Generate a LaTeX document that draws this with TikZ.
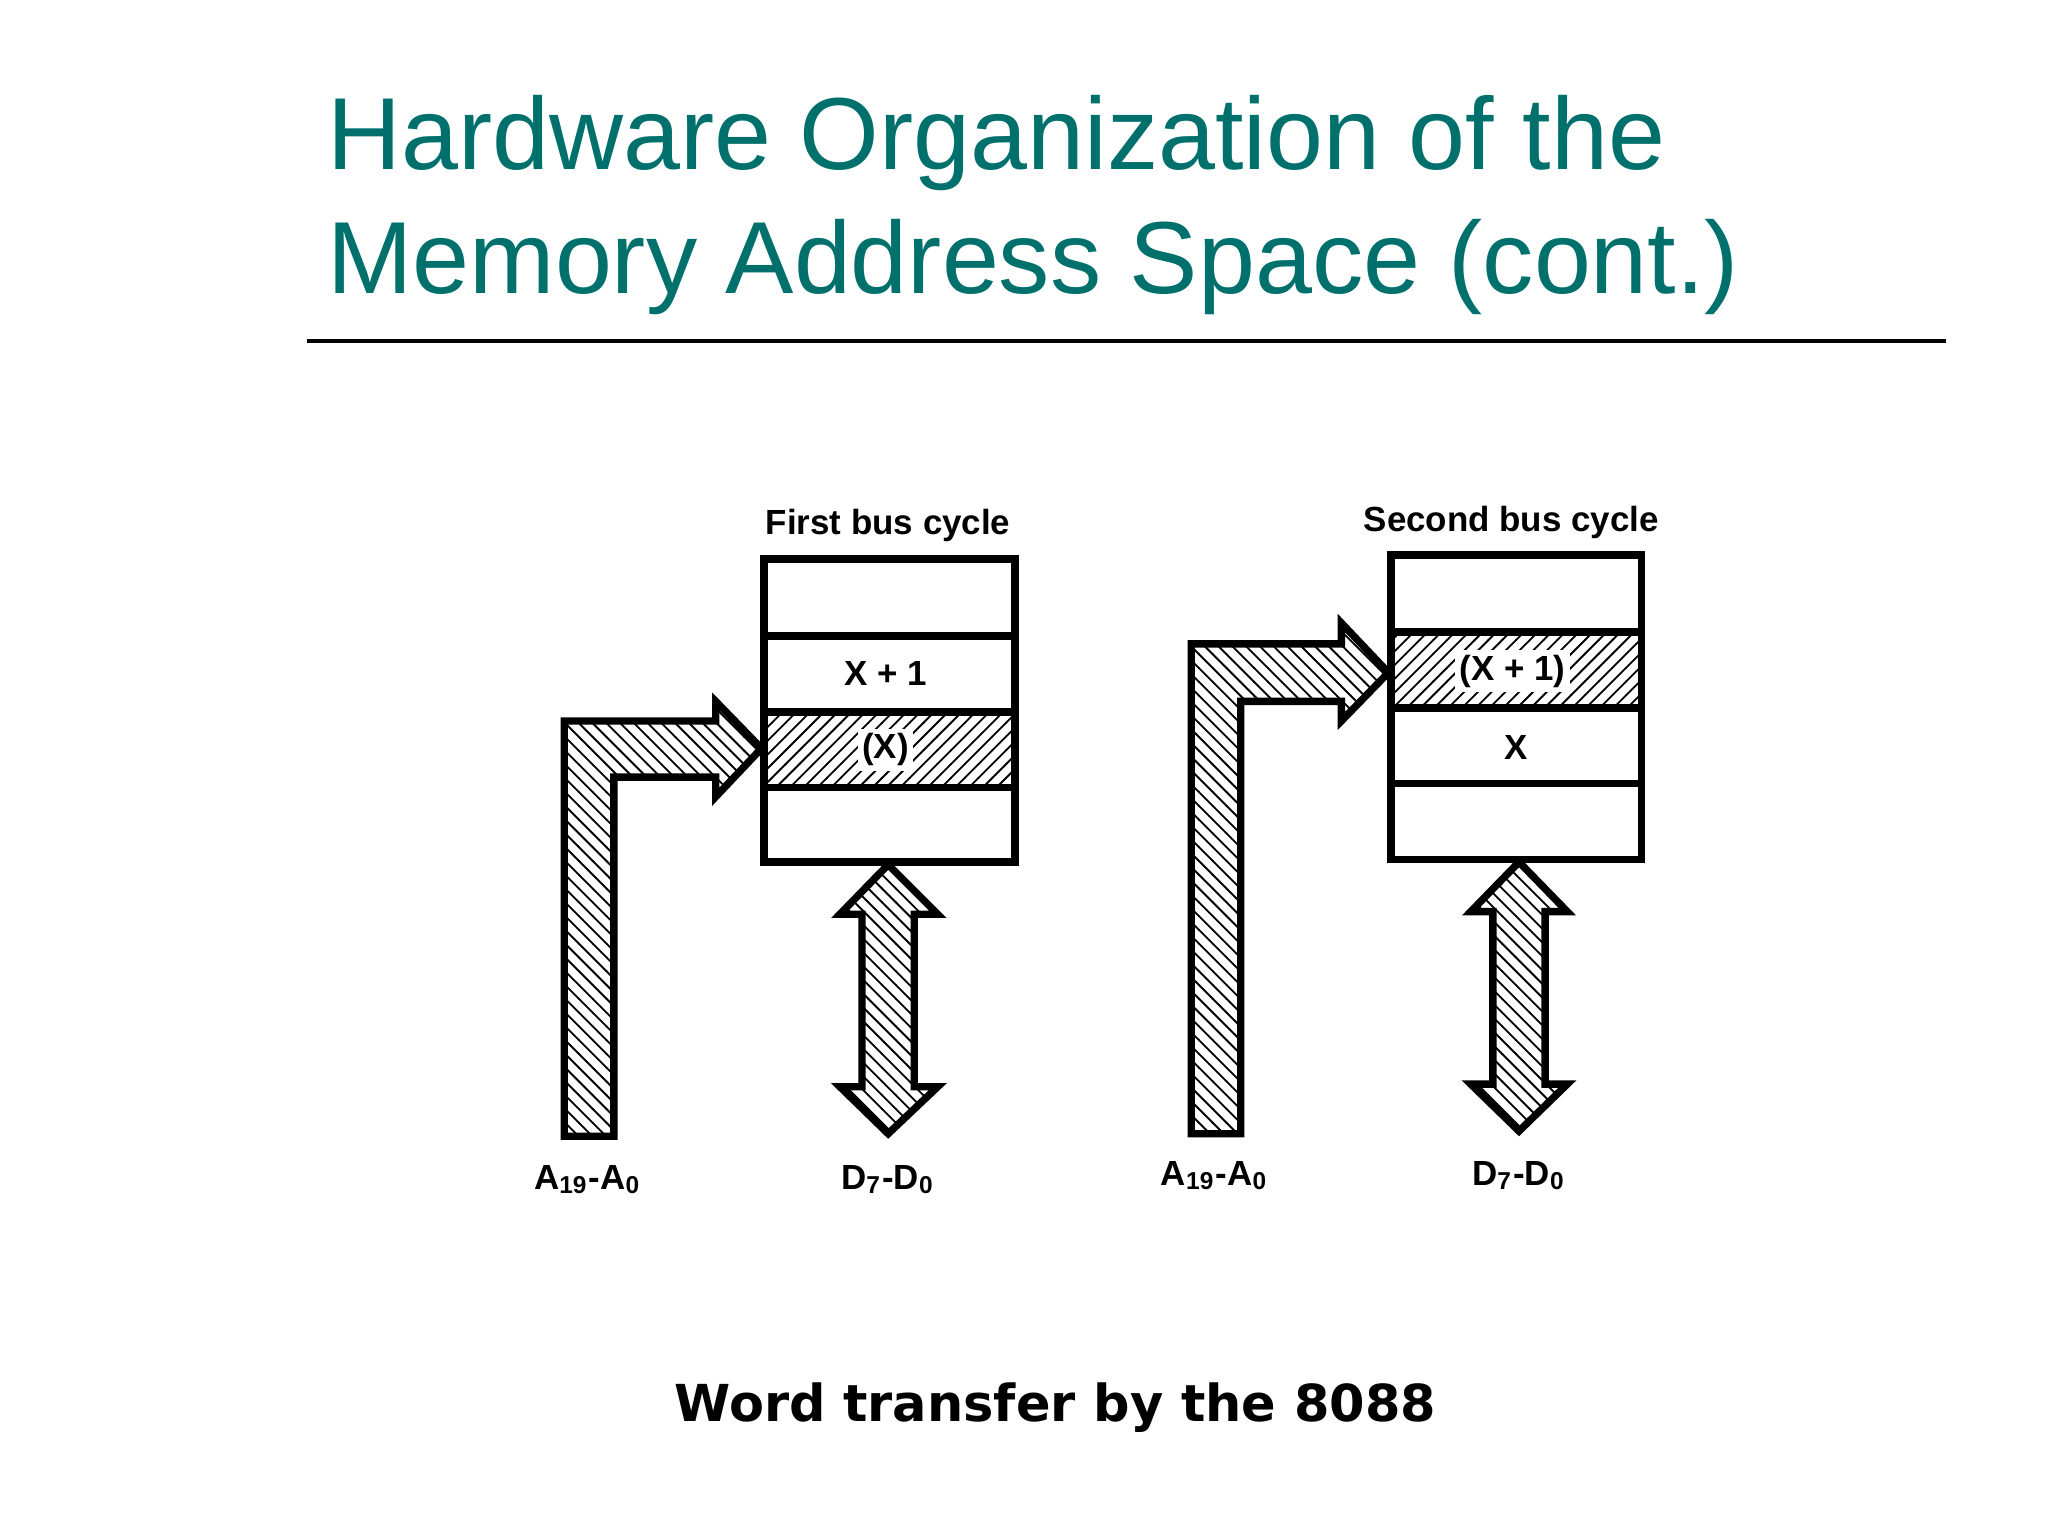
\documentclass[tikz,border=0pt]{standalone}
\usepackage{fontspec}
\setmainfont{Liberation Sans}
\newfontfamily\capfont{DejaVu Sans}
\usetikzlibrary{patterns}
\definecolor{teal1}{RGB}{0,112,108}
\tikzset{
 cell/.style={draw,line width=1.6pt},
 hatchcell/.style={cell,pattern=north east lines},
 busarrow/.style={draw,line width=1.6pt,line join=miter,pattern=north west lines},
 lbl/.style={font=\fontsize{7.6}{9}\selectfont\bfseries},
}
\begin{document}
\begin{tikzpicture}[x=0.01cm,y=-0.01cm]
\useasboundingbox (0,0) rectangle (1568,1176);
\node[anchor=base west,text=teal1,font=\fontsize{22.3}{26}\selectfont,inner sep=0] (t1) at (250,130) {Hardware Organization of the};
\node[anchor=base west,text=teal1,font=\fontsize{22.3}{26}\selectfont,inner sep=0] (t2) at (250,225) {Memory Address Space (cont.)};
\draw[line width=0.8pt] (235,261) -- (1490,261);
% left
\node[lbl] (fb) at (680,402) {First bus cycle};
\draw[cell] (585,428) rectangle (777,487);
\draw[cell] (585,487) rectangle (777,545);
\draw[hatchcell] (585,545) rectangle (777,603);
\draw[cell] (585,603) rectangle (777,660);
\node[lbl] (x1) at (678,516) {X + 1};
\node[lbl,fill=white,inner sep=1pt] (x0) at (678,574) {(X)};
\draw[busarrow] (432,870)--(432,552)--(548,552)--(548,537)--(583,573)--(548,610)--(548,595)--(470,595)--(470,870)--cycle;
\draw[busarrow] (680,662)--(718,700)--(700,700)--(700,832)--(718,832)--(680,868)--(643,832)--(660,832)--(660,700)--(643,700)--cycle;
\node[lbl] (a1) at (450,903) {A$_{\mathbf{19}}$-A$_{\mathbf 0}$};
\node[lbl] (d1) at (680,903) {D$_{\mathbf 7}$-D$_{\mathbf 0}$};
% right
\node[lbl] (sb) at (1157,400) {Second bus cycle};
\draw[cell] (1065,425) rectangle (1257,484);
\draw[hatchcell] (1065,484) rectangle (1257,542);
\draw[cell] (1065,542) rectangle (1257,600);
\draw[cell] (1065,600) rectangle (1257,658);
\node[lbl,fill=white,inner sep=1pt] (y1) at (1158,514) {(X + 1)};
\node[lbl] (y0) at (1161,572) {X};
\draw[busarrow] (912,868)--(912,493)--(1027,493)--(1027,477)--(1063,515)--(1027,552)--(1027,537)--(950,537)--(950,868)--cycle;
\draw[busarrow] (1163,660)--(1200,698)--(1183,698)--(1183,830)--(1200,830)--(1163,866)--(1126,830)--(1143,830)--(1143,698)--(1126,698)--cycle;
\node[lbl] (a2) at (930,900) {A$_{\mathbf{19}}$-A$_{\mathbf 0}$};
\node[lbl] (d2) at (1163,900) {D$_{\mathbf 7}$-D$_{\mathbf 0}$};
\node[font=\capfont\fontsize{11.1}{13}\selectfont\bfseries] (cap) at (808,1078) {Word transfer by the 8088};
\end{tikzpicture}
\end{document}
